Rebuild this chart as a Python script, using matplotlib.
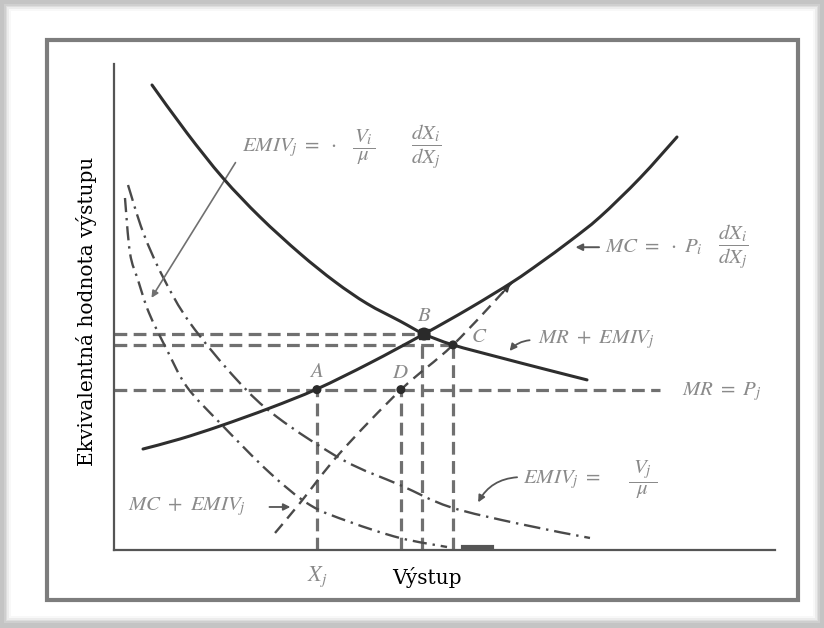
import matplotlib.pyplot as plt
from matplotlib.patches import Rectangle, PathPatch
from matplotlib.path import Path

plt.rcParams['mathtext.fontset'] = 'stix'
plt.rcParams['font.family'] = ['DejaVu Serif']

# curves as (quantity, value) points
mr_emiv_x = [0.575, 1.104, 1.649, 2.209, 2.814, 3.343, 3.828, 4.327, 4.690, 5.129, 5.840, 6.520, 7.156]
mr_emiv_y = [9.568, 8.580, 7.654, 6.852, 6.100, 5.520, 5.070, 4.710, 4.444, 4.220, 3.960, 3.720, 3.500]

mc_x = [0.439, 0.998, 1.604, 2.360, 3.071, 3.873, 4.690, 5.386, 6.036, 6.445, 6.899, 7.352, 7.958, 8.517]
mc_y = [2.078, 2.284, 2.551, 2.922, 3.313, 3.848, 4.444, 4.980, 5.520, 5.905, 6.358, 6.852, 7.654, 8.498]

emiv_neg_x = [0.166, 0.242, 0.363, 0.530, 0.802, 1.104, 1.604, 2.360, 2.965, 3.570, 4.327, 5.038]
emiv_neg_y = [7.243, 6.111, 5.556, 4.877, 4.115, 3.354, 2.613, 1.584, 0.926, 0.576, 0.247, 0.062]

emiv_pos_x = [0.212, 0.439, 0.741, 1.150, 1.861, 2.466, 3.464, 4.327, 5.083, 6.142, 7.201]
emiv_pos_y = [7.510, 6.543, 5.617, 4.671, 3.498, 2.737, 1.852, 1.337, 0.885, 0.535, 0.247]

mc_emiv_x = [2.436, 2.814, 3.419, 4.342, 5.129, 6.021]
mc_emiv_y = [0.350, 0.967, 1.996, 3.300, 4.220, 5.505]

mr_level = 3.30
mr_end = 8.26
pt_names = ['A', 'D', 'B', 'C']
pt_x = [3.07, 4.34, 4.69, 5.129]
pt_y = [3.30, 3.30, 4.444, 4.220]
xj = 3.07


def smooth(xs, ys):
    # Catmull-Rom through the points, as cubic Bezier segments
    p = list(zip(xs, ys))
    n = len(p)
    verts = [p[0]]
    codes = [Path.MOVETO]
    for i in range(n - 1):
        p0 = p[max(i - 1, 0)]
        p1, p2 = p[i], p[i + 1]
        p3 = p[min(i + 2, n - 1)]
        c1 = (p1[0] + (p2[0] - p0[0]) / 6, p1[1] + (p2[1] - p0[1]) / 6)
        c2 = (p2[0] - (p3[0] - p1[0]) / 6, p2[1] - (p3[1] - p1[1]) / 6)
        verts += [c1, c2, p2]
        codes += [Path.CURVE4] * 3
    return Path(verts, codes)


def curve(ax, xs, ys, **kw):
    ax.add_patch(PathPatch(smooth(xs, ys), fill=False, **kw))


fig = plt.figure(figsize=(8.24, 6.28), dpi=100)
fig.patch.set_facecolor('#c4c4c4')

# soft shadow round the white card
for i, a in enumerate([0.2, 0.3, 0.45, 0.65, 1.0]):
    d = (4 - i) * 1.8
    fig.patches.append(Rectangle(((11 - d) / 824, (12 - d) / 628), (802 + 2 * d) / 824, (605 + 2 * d) / 628,
                                 transform=fig.transFigure, facecolor='white', alpha=a,
                                 edgecolor='none', zorder=0))
fig.patches.append(Rectangle((47 / 824, 28 / 628), 751 / 824, 560 / 628, transform=fig.transFigure,
                             facecolor='white', edgecolor='#7d7d7d', lw=3.0, zorder=1))

ax = fig.add_axes([114 / 824, 78 / 628, 661 / 824, 486 / 628])
ax.set_zorder(3)
ax.set_facecolor('none')
ax.set_xlim(0, 10)
ax.set_ylim(0, 10)
for s in ['top', 'right']:
    ax.spines[s].set_visible(False)
for s in ['left', 'bottom']:
    ax.spines[s].set_color('#555555')
    ax.spines[s].set_linewidth(1.6)
ax.set_xticks([])
ax.set_yticks([])

guide = dict(color='#707070', lw=2.3, ls=(0, (4, 2)), clip_on=False, zorder=2)
ax.plot([0, mr_end], [mr_level, mr_level], **guide)
ax.plot([0, pt_x[2]], [pt_y[2], pt_y[2]], **guide)
ax.plot([0, pt_x[3]], [pt_y[3], pt_y[3]], **guide)
ax.plot([pt_x[0], pt_x[0]], [0, pt_y[0]], **guide)
ax.plot([pt_x[1], pt_x[1]], [0, pt_y[1]], **guide)
ax.plot([pt_x[2] - 0.03, pt_x[2] - 0.03], [0, pt_y[2]], **guide)
ax.plot([pt_x[3], pt_x[3]], [0, pt_y[3]], **guide)

curve(ax, mr_emiv_x, mr_emiv_y, edgecolor='#2e2e2e', lw=2.2, zorder=4, capstyle='round')
curve(ax, mc_x, mc_y, edgecolor='#2e2e2e', lw=2.2, zorder=4, capstyle='round')
curve(ax, emiv_neg_x, emiv_neg_y, edgecolor='#4a4a4a', lw=1.7, ls=(0, (6, 2.5, 1, 2.5)), zorder=3)
curve(ax, emiv_pos_x, emiv_pos_y, edgecolor='#4a4a4a', lw=1.7, ls=(0, (7, 2.5, 1, 2.5)), zorder=3)
ax.plot([5.28, 5.72], [0.06, 0.06], color='#555555', lw=3, zorder=3, clip_on=False)
curve(ax, mc_emiv_x, mc_emiv_y, edgecolor='#4a4a4a', lw=1.7, ls=(0, (5, 3)), zorder=3)
ax.annotate('', xy=(mc_emiv_x[-1], mc_emiv_y[-1]), xytext=(5.85, 5.25),
            arrowprops=dict(arrowstyle='-|>', color='#3a3a3a', lw=1.2, mutation_scale=10))

ax.scatter(pt_x, pt_y, s=[30, 30, 70, 30], color='#2a2a2a', marker='o', zorder=5)
ax.scatter([pt_x[2]], [pt_y[2]], s=60, marker='s', color='#2a2a2a', zorder=5)

lbl = dict(color='#8a8a8a', fontsize=15, fontfamily='STIXGeneral', style='italic')
ax.text(3.07, 3.66, 'A', ha='center', va='center', **lbl)
ax.text(4.33, 3.64, 'D', ha='center', va='center', **lbl)
ax.text(4.68, 4.82, 'B', ha='center', va='center', **lbl)
ax.text(5.51, 4.38, 'C', ha='center', va='center', **lbl)

gray = '#8a8a8a'
fs = 15
ax.text(1.94, 8.29, r'$EMIV_j\ =\ \cdot$', color=gray, fontsize=fs, ha='left', va='center')
ax.text(3.77, 8.29, r'$\dfrac{V_i}{\ \mu\ }$', color=gray, fontsize=fs, ha='center', va='center')
ax.text(4.72, 8.29, r'$\dfrac{dX_i}{dX_j}$', color=gray, fontsize=fs, ha='center', va='center')
ax.annotate('', xy=(0.545, 5.14), xytext=(1.86, 8.02),
            arrowprops=dict(arrowstyle='-|>', color='#707070', lw=1.2, mutation_scale=10))

ax.text(7.43, 6.23, r'$MC\ =\ \cdot\ P_i$', color=gray, fontsize=fs, ha='left', va='center')
ax.text(9.36, 6.23, r'$\dfrac{dX_i}{dX_j}$', color=gray, fontsize=fs, ha='center', va='center')
ax.annotate('', xy=(6.94, 6.23), xytext=(7.38, 6.23),
            arrowprops=dict(arrowstyle='-|>', color='#555555', lw=1.4, mutation_scale=10))

ax.text(6.41, 4.32, r'$MR\ +\ EMIV_j$', color=gray, fontsize=fs, ha='left', va='center')
ax.annotate('', xy=(5.96, 4.05), xytext=(6.33, 4.32),
            arrowprops=dict(arrowstyle='-|>', color='#555555', lw=1.3, mutation_scale=10,
                            connectionstyle='arc3,rad=0.25'))

ax.text(8.59, 3.25, r'$MR\ =\ P_j$', color=gray, fontsize=fs, ha='left', va='center')

ax.text(6.19, 1.44, r'$EMIV_j\ =$', color=gray, fontsize=fs, ha='left', va='center')
ax.text(8.0, 1.44, r'$\dfrac{\ V_j\ }{\mu}$', color=gray, fontsize=fs, ha='center', va='center')
ax.annotate('', xy=(5.49, 0.93), xytext=(6.14, 1.50),
            arrowprops=dict(arrowstyle='-|>', color='#555555', lw=1.3, mutation_scale=10,
                            connectionstyle='arc3,rad=0.3'))

ax.text(0.21, 0.885, r'$MC\ +\ EMIV_j$', color=gray, fontsize=fs, ha='left', va='center')
ax.annotate('', xy=(2.71, 0.885), xytext=(2.31, 0.885),
            arrowprops=dict(arrowstyle='-|>', color='#555555', lw=1.3, mutation_scale=10))

ax.text(xj, -0.56, r'$X_j$', color=gray, fontsize=16, ha='center', va='center')
ax.text(4.735, -0.56, 'Výstup', color='black', fontsize=14.5, ha='center', va='center')
fig.text(87 / 824, 1 - 311 / 628, 'Ekvivalentná hodnota výstupu', rotation=90, color='black',
         fontsize=14.5, ha='center', va='center', zorder=4)

fig.savefig('out.png', dpi=100, facecolor=fig.get_facecolor())
